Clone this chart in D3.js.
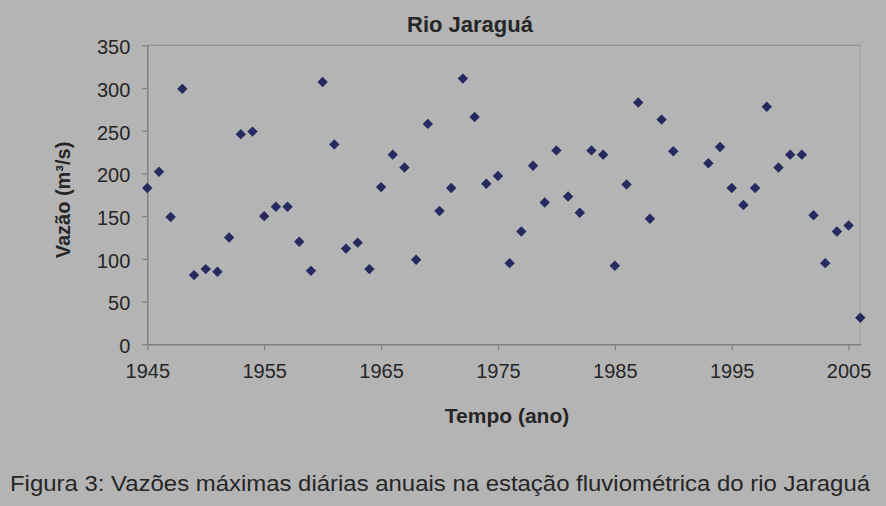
<!DOCTYPE html>
<html>
<head>
<meta charset="utf-8">
<script src="https://cdn.jsdelivr.net/npm/d3@7"></script>
<style>
  html, body { margin: 0; padding: 0; background: #b4b4b4; }
  svg { display: block; }
  text { font-family: "Liberation Sans", Arial, sans-serif; fill: #262626; }
</style>
</head>
<body>
<svg id="chart" width="886" height="506"></svg>
<script>
// Data
const years = [1945,1946,1947,1948,1949,1950,1951,1952,1953,1954,1955,1956,1957,1958,1959,1960,
  1961,1962,1963,1964,1965,1966,1967,1968,1969,1970,1971,1972,1973,1974,1975,1976,1977,1978,1979,
  1980,1981,1982,1983,1984,1985,1986,1987,1988,1989,1990,1993,1994,1995,1996,1997,1998,1999,2000,
  2001,2002,2003,2004,2005,2006];
const flows = [183,202,149,299,81,88,85,125,246,249,150,161,161,120,86,307,
  234,112,119,88,184,222,207,99,258,156,183,311,266,188,197,95,132,209,166,
  227,173,154,227,222,92,187,283,147,263,226,212,231,183,163,183,278,207,222,
  222,151,95,132,139,31];
const xTicks = [1945,1955,1965,1975,1985,1995,2005];
const yTicks = [0,50,100,150,200,250,300,350];
const titleText = "Rio Jaraguá";
const xTitle = "Tempo (ano)";
const yTitle = "Vazão (m³/s)";
const caption = "Figura 3: Vazões máximas diárias anuais na estação fluviométrica do rio Jaraguá";

const svg = d3.select("#chart");
const pLeft = 147.3, pRight = 860.3, pTop = 45.3, pBottom = 344.3;

const x = d3.scaleLinear().domain([1945, 2006]).range([pLeft, pRight]);
const y = d3.scaleLinear().domain([0, 350]).range([pBottom, pTop]);

// plot border (top & right lighter)
svg.append("line").attr("x1", pLeft).attr("x2", pRight).attr("y1", pTop).attr("y2", pTop)
  .attr("stroke", "#939393").attr("stroke-width", 1.2);
svg.append("line").attr("x1", pRight).attr("x2", pRight).attr("y1", pTop).attr("y2", pBottom)
  .attr("stroke", "#a2a2a2").attr("stroke-width", 1);

// axes
const xAxis = svg.append("g").attr("transform", `translate(0,${pBottom})`)
  .call(d3.axisBottom(x).tickValues(xTicks).tickFormat(d3.format("d")).tickSize(6).tickPadding(14).tickSizeOuter(0));
const yAxis = svg.append("g").attr("transform", `translate(${pLeft},0)`)
  .call(d3.axisLeft(y).tickValues(yTicks).tickSize(5).tickPadding(12).tickSizeOuter(0));

[xAxis, yAxis].forEach(g => {
  g.select(".domain").attr("stroke", "#7d7d7d").attr("stroke-width", 1.4);
  g.selectAll(".tick line").attr("stroke", "#7d7d7d").attr("stroke-width", 1.2);
  g.selectAll(".tick text").attr("font-size", 20).attr("fill", "#262626")
    .style("font-family", '"Liberation Sans", Arial, sans-serif');
});
yAxis.selectAll(".tick text").attr("dy", "0.42em");
xAxis.selectAll(".tick text").attr("dy", "0.71em");

// points (Excel-like diamond markers)
svg.append("g").selectAll("path").data(years.map((yr, i) => ({yr, v: flows[i]})))
  .join("path")
  .attr("d", d3.symbol().type(d3.symbolSquare).size(54))
  .attr("transform", d => `translate(${x(d.yr)},${y(d.v)}) rotate(45)`)
  .attr("fill", "#262a5e");

// titles
svg.append("text").attr("x", 470).attr("y", 32).attr("text-anchor", "middle")
  .attr("font-size", 22).attr("font-weight", "bold").text(titleText);
svg.append("text").attr("x", 507).attr("y", 423).attr("text-anchor", "middle")
  .attr("font-size", 21).attr("font-weight", "bold").text(xTitle);
svg.append("text").attr("transform", "translate(70,200) rotate(-90)").attr("text-anchor", "middle")
  .attr("font-size", 20).attr("font-weight", "bold").text(yTitle);
svg.append("text").attr("x", 10).attr("y", 491)
  .attr("font-size", 22).attr("textLength", 860).attr("lengthAdjust", "spacingAndGlyphs").text(caption);
</script>
</body>
</html>
